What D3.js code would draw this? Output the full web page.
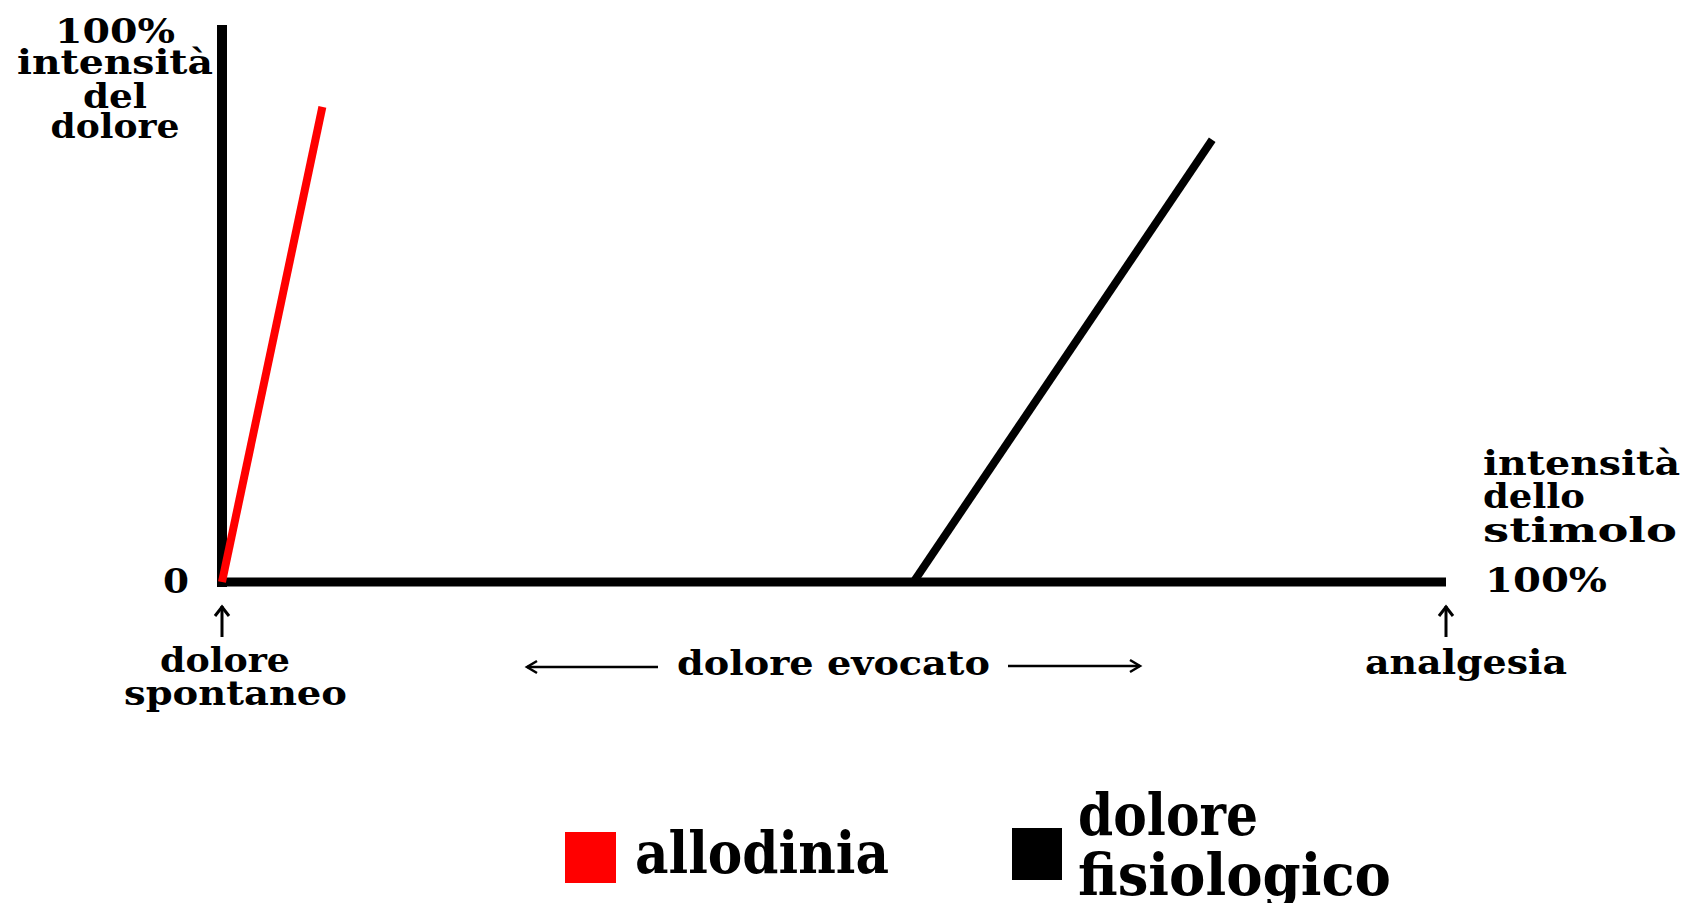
<!DOCTYPE html>
<html>
<head>
<meta charset="utf-8">
<script src="https://cdn.jsdelivr.net/npm/d3@7"></script>
<style>
  html, body { margin: 0; padding: 0; background: #fff; }
  svg { display: block; }
  text { font-family: "DejaVu Serif", serif; font-weight: bold; fill: #000; }
</style>
</head>
<body>
<svg id="chart" width="1684" height="903"></svg>
<script>
// ---- data ----
const xDomain = [0, 100];          // intensità dello stimolo (%)
const yDomain = [0, 100];          // intensità del dolore (%)
const seriesNames = ["allodinia", "dolore fisiologico"];
const seriesColors = ["#ff0000", "#000000"];
const allodiniaX = [0, 8.2];
const allodiniaY = [0, 85.3];
const fisiologicoX = [56.5, 80.9];
const fisiologicoY = [0, 79.4];
const yAxisTopLabel = ["100%", "intensità", "del", "dolore"];
const xAxisEndLabel = ["intensità", "dello", "stimolo"];
const zeroLabel = "0";
const xMaxLabel = "100%";
const leftMarkLabel = ["dolore", "spontaneo"];
const middleLabel = "dolore evocato";
const rightMarkLabel = "analgesia";

// ---- layout ----
const svg = d3.select("#chart");
const x = d3.scaleLinear().domain(xDomain).range([222, 1446]);
const y = d3.scaleLinear().domain(yDomain).range([582, 25]);

function txt(str, x0, base, w, size, anchor) {
  const t = svg.append("text")
    .attr("x", x0).attr("y", base)
    .attr("font-size", size)
    .attr("text-anchor", anchor || "start")
    .text(str);
  if (w) t.attr("textLength", w).attr("lengthAdjust", "spacingAndGlyphs");
  return t;
}

// axes (thick black bars)
svg.append("line")
  .attr("x1", x(0)).attr("x2", x(0))
  .attr("y1", y(100)).attr("y2", y(0) + 5)
  .attr("stroke", "#000").attr("stroke-width", 10);
svg.append("line")
  .attr("x1", x(0) - 5).attr("x2", x(100))
  .attr("y1", y(0)).attr("y2", y(0))
  .attr("stroke", "#000").attr("stroke-width", 9);

// series lines
const line = d3.line().x(d => x(d[0])).y(d => y(d[1]));
const series = [
  d3.zip(allodiniaX, allodiniaY),
  d3.zip(fisiologicoX, fisiologicoY)
];
svg.append("path").datum(series[1])
  .attr("d", line).attr("fill", "none")
  .attr("stroke", seriesColors[1]).attr("stroke-width", 8);
svg.append("path").datum(series[0])
  .attr("d", line).attr("fill", "none")
  .attr("stroke", seriesColors[0]).attr("stroke-width", 8);

// y-axis title
const yLab = [[43, 120], [74, 196], [108, 64], [138, 129]];
yAxisTopLabel.forEach((s, i) => txt(s, 115 - yLab[i][1] / 2, yLab[i][0], yLab[i][1], 33));

// x-axis title
const xLab = [[475, 197], [508, 102], [542, 194]];
xAxisEndLabel.forEach((s, i) => txt(s, 1483, xLab[i][0], xLab[i][1], 33));
txt(xMaxLabel, 1485, 592, 122, 33);
txt(zeroLabel, 163, 593, 26, 33);

// up arrows
function upArrow(cx) {
  svg.append("line").attr("x1", cx).attr("x2", cx).attr("y1", 606).attr("y2", 637)
    .attr("stroke", "#000").attr("stroke-width", 3);
  svg.append("polyline")
    .attr("points", `${cx - 7},${616} ${cx},${607} ${cx + 7},${616}`)
    .attr("fill", "none").attr("stroke", "#000").attr("stroke-width", 3);
}
upArrow(x(0));
upArrow(x(100));

// horizontal arrows around "dolore evocato"
function hArrow(x1, x2, yy, dir) {
  svg.append("line").attr("x1", x1).attr("x2", x2).attr("y1", yy).attr("y2", yy)
    .attr("stroke", "#000").attr("stroke-width", 2.5);
  const tip = dir < 0 ? x1 : x2;
  svg.append("polyline")
    .attr("points", `${tip - dir * 10},${yy - 6} ${tip},${yy} ${tip - dir * 10},${yy + 6}`)
    .attr("fill", "none").attr("stroke", "#000").attr("stroke-width", 2.5);
}
hArrow(527, 658, 667, -1);
hArrow(1008, 1140, 666, 1);

txt(leftMarkLabel[0], 160, 672, 130, 33);
txt(leftMarkLabel[1], 124, 705, 223, 33);
txt(middleLabel, 677, 675, 313, 33);
txt(rightMarkLabel, 1365, 674, 202, 33);

// legend
svg.append("rect").attr("x", 565).attr("y", 832).attr("width", 51).attr("height", 51)
  .attr("fill", seriesColors[0]);
txt(seriesNames[0], 635, 873, 254, 57);
svg.append("rect").attr("x", 1012).attr("y", 828).attr("width", 50).attr("height", 52)
  .attr("fill", seriesColors[1]);
const legWords = seriesNames[1].split(" ");
txt(legWords[0], 1078, 835, 180, 57);
txt(legWords[1], 1078, 895, 313, 57);
</script>
</body>
</html>
